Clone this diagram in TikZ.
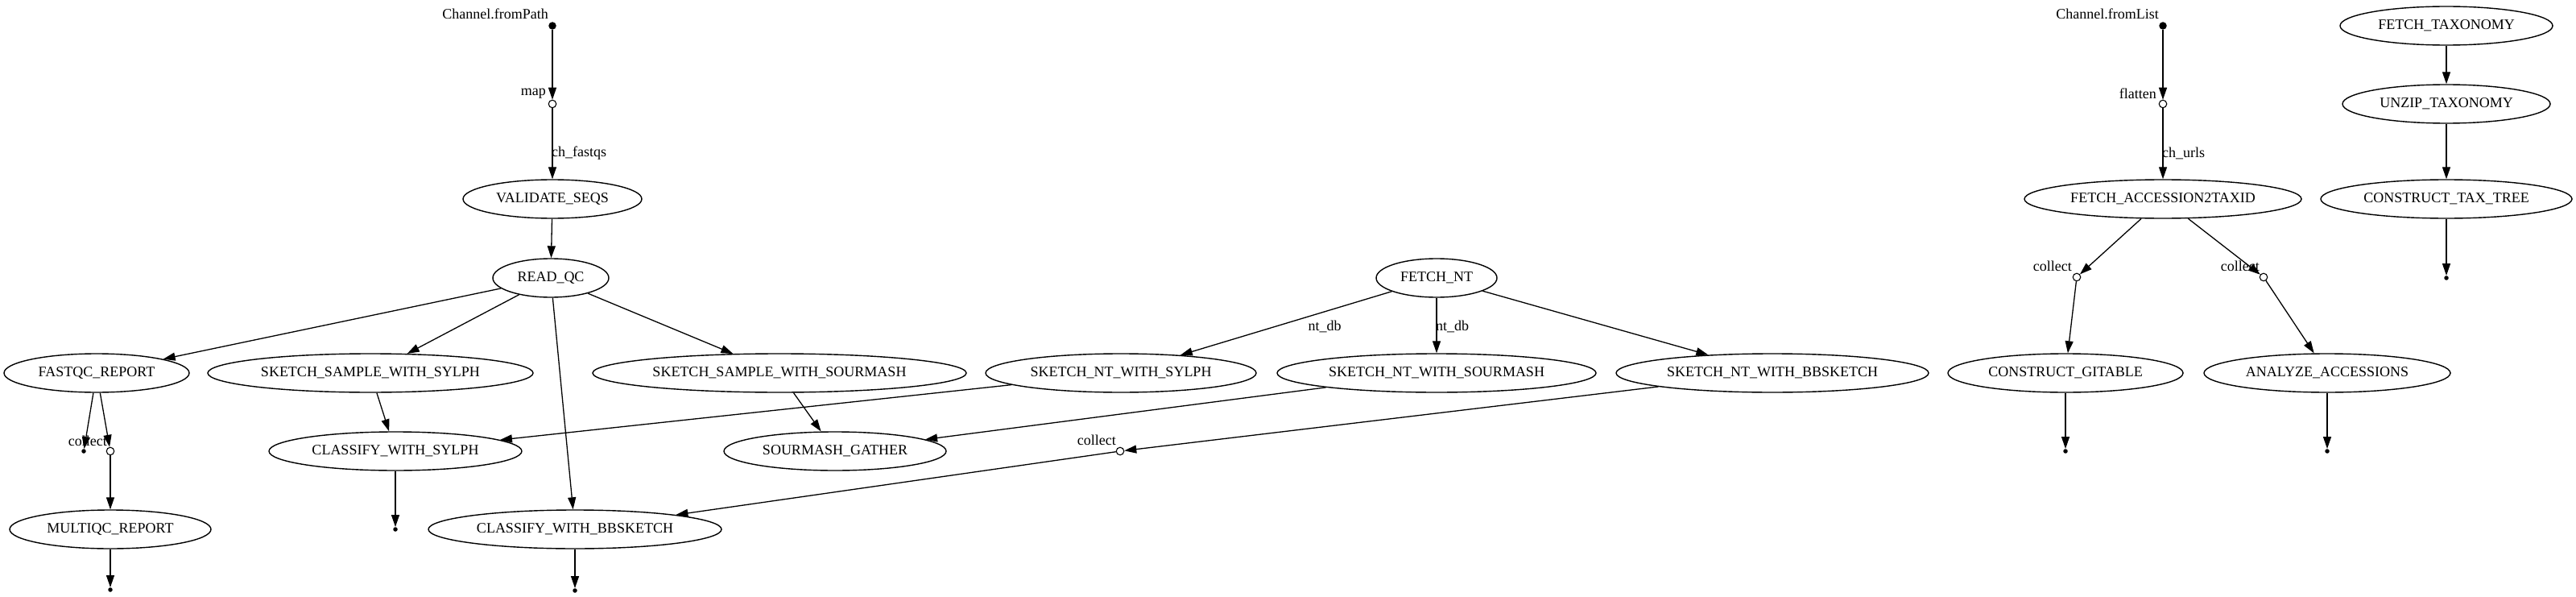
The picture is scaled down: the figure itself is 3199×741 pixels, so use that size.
\documentclass[tikz,border=0pt]{standalone}
\usepackage{fontspec}
\setmainfont{Liberation Serif}
\usetikzlibrary{arrows.meta,shapes.geometric}
\begin{document}
\begin{tikzpicture}[x=1pt,y=-1pt,
  every node/.style={font=\fontsize{18}{20}\selectfont},
  proc/.style={draw,ellipse,line width=1.4pt,inner sep=0pt,minimum height=48pt},
  startdot/.style={circle,fill=black,inner sep=0pt,minimum size=9.5pt},
  enddot/.style={circle,fill=black,inner sep=0pt,minimum size=5.5pt},
  opnode/.style={circle,draw,line width=1.1pt,fill=white,inner sep=0pt,minimum size=9.5pt},
  lbl/.style={inner sep=0pt},
  conn/.style={line width=1.3pt,-{Triangle[length=15pt,width=10pt]}}
]
\useasboundingbox (0,0) rectangle (3199,741);

% ---- nodes: left tree
\node[startdot] (fp) at (686,32) {};
\node[lbl,anchor=east] (fpl) at (681,17) {Channel.fromPath};
\node[opnode] (map) at (686,129) {};
\node[lbl,anchor=east] (mapl) at (678,116) {map};
\node[proc,minimum width=222pt] (val) at (686,247) {VALIDATE\_SEQS};
\node[proc,minimum width=144pt] (rqc) at (684,345) {READ\_QC};
\node[proc,minimum width=230pt] (fqc) at (120,463) {FASTQC\_REPORT};
\node[proc,minimum width=404pt] (ssy) at (460,463) {SKETCH\_SAMPLE\_WITH\_SYLPH};
\node[proc,minimum width=464pt] (ssm) at (968,463) {SKETCH\_SAMPLE\_WITH\_SOURMASH};
\node[enddot] (fqcend) at (104,560) {};
\node[opnode] (col1) at (137,560) {};
\node[lbl,anchor=east] (col1l) at (133,547) {collect};
\node[proc,minimum width=250pt] (mqc) at (137,657) {MULTIQC\_REPORT};
\node[enddot] (mqcend) at (137,732) {};
\node[proc,minimum width=314pt] (csy) at (491,560) {CLASSIFY\_WITH\_SYLPH};
\node[enddot] (csyend) at (491,657) {};
\node[proc,minimum width=364pt] (cbb) at (714,657) {CLASSIFY\_WITH\_BBSKETCH};
\node[enddot] (cbbend) at (714,733) {};
\node[proc,minimum width=276pt] (smg) at (1037,560) {SOURMASH\_GATHER};

% ---- FETCH_NT tree
\node[proc,minimum width=150pt] (fnt) at (1784,345) {FETCH\_NT};
\node[proc,minimum width=336pt] (nsy) at (1392,463) {SKETCH\_NT\_WITH\_SYLPH};
\node[proc,minimum width=396pt] (nsm) at (1784,463) {SKETCH\_NT\_WITH\_SOURMASH};
\node[proc,minimum width=388pt] (nbb) at (2201,463) {SKETCH\_NT\_WITH\_BBSKETCH};
\node[opnode] (col2) at (1391,560) {};
\node[lbl,anchor=east] (col2l) at (1386,546) {collect};

% ---- fromList tree
\node[startdot] (fl) at (2686,32) {};
\node[lbl,anchor=east] (fll) at (2681,17) {Channel.fromList};
\node[opnode] (flat) at (2686,129) {};
\node[lbl,anchor=east] (flatl) at (2678,116) {flatten};
\node[proc,minimum width=344pt] (fa2t) at (2686,247) {FETCH\_ACCESSION2TAXID};
\node[opnode] (col3) at (2579,344) {};
\node[lbl,anchor=east] (col3l) at (2573,330) {collect};
\node[opnode] (col4) at (2811,344) {};
\node[lbl,anchor=east] (col4l) at (2806,330) {collect};
\node[proc,minimum width=292pt] (cgi) at (2565,463) {CONSTRUCT\_GITABLE};
\node[proc,minimum width=306pt] (aac) at (2890,463) {ANALYZE\_ACCESSIONS};
\node[enddot] (cgiend) at (2565,560) {};
\node[enddot] (aacend) at (2890,560) {};

% ---- taxonomy chain
\node[proc,minimum width=264pt] (ftx) at (3038,32) {FETCH\_TAXONOMY};
\node[proc,minimum width=258pt] (utx) at (3038,129) {UNZIP\_TAXONOMY};
\node[proc,minimum width=312pt] (ctt) at (3038,247) {CONSTRUCT\_TAX\_TREE};
\node[enddot] (cttend) at (3038,345) {};

% ---- connectors
\draw[conn] (fp) -- (map);
\draw[conn] (map) -- (val);
\node[lbl,anchor=west] (chf) at (685,190) {ch\_fastqs};
\draw[conn] (val) -- (rqc);
\draw[conn] (rqc) -- (fqc);
\draw[conn] (rqc) -- (ssy);
\draw[conn] (rqc) -- (ssm);
\draw[conn] (rqc) -- (cbb);
\draw[conn] (fqc) -- (fqcend);
\draw[conn] (fqc) -- (col1);
\draw[conn] (col1) -- (mqc);
\draw[conn] (mqc) -- (mqcend);
\draw[conn] (ssy) -- (csy);
\draw[conn] (csy) -- (csyend);
\draw[conn] (cbb) -- (cbbend);
\draw[conn] (ssm) -- (smg);

\draw[conn] (fnt) -- (nsy);
\node[lbl] (ntdb1) at (1645,405) {nt\_db};
\draw[conn] (fnt) -- (nsm);
\node[lbl,anchor=west] (ntdb2) at (1783,405) {nt\_db};
\draw[conn] (fnt) -- (nbb);
\draw[conn] (nsy) -- (csy);
\draw[conn] (nsm) -- (smg);
\draw[conn] (nbb) -- (col2);
\draw[conn] (col2) -- (cbb);

\draw[conn] (fl) -- (flat);
\draw[conn] (flat) -- (fa2t);
\node[lbl,anchor=west] (chu) at (2685,190) {ch\_urls};
\draw[conn] (fa2t) -- (col3);
\draw[conn] (fa2t) -- (col4);
\draw[conn] (col3) -- (cgi);
\draw[conn] (col4) -- (aac);
\draw[conn] (cgi) -- (cgiend);
\draw[conn] (aac) -- (aacend);

\draw[conn] (ftx) -- (utx);
\draw[conn] (utx) -- (ctt);
\draw[conn] (ctt) -- (cttend);
\end{tikzpicture}
\end{document}
